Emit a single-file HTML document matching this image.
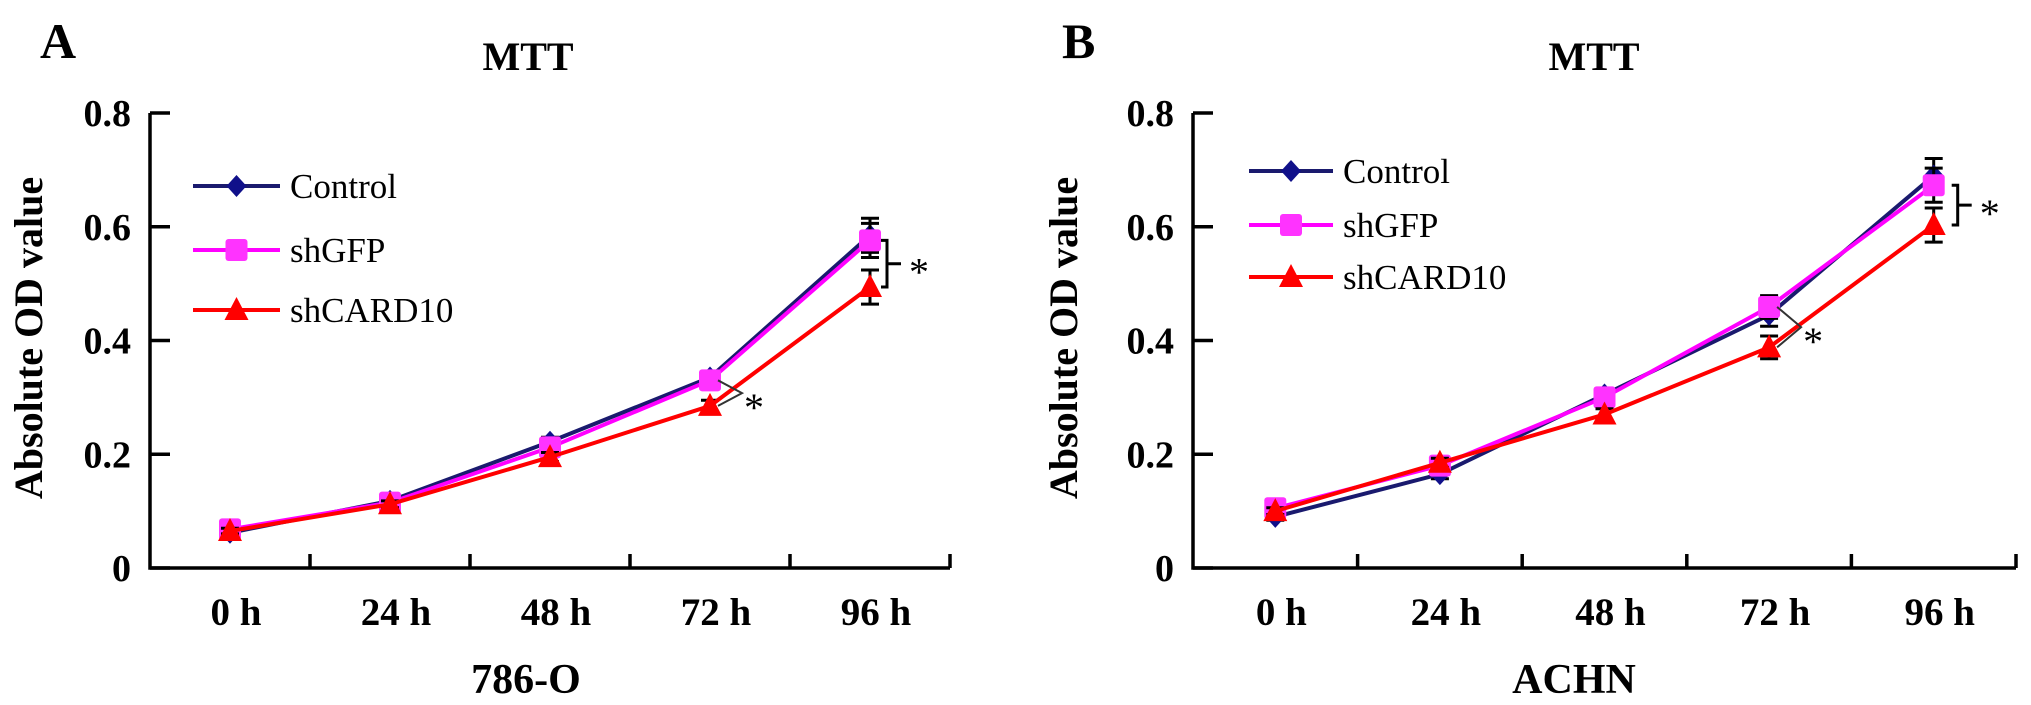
<!DOCTYPE html>
<html><head><meta charset="utf-8"><style>
html,body{margin:0;padding:0;background:#fff;}
svg{display:block;}
text{font-family:"Liberation Serif",serif;}
</style></head><body>
<svg id="fig" width="2031" height="705" viewBox="0 0 2031 705" xmlns="http://www.w3.org/2000/svg"></svg>
<script>
const categories = ["0 h","24 h","48 h","72 h","96 h"];
const yTicks = [0,0.2,0.4,0.6,0.8];
const yTickLabels = ["0","0.2","0.4","0.6","0.8"];
const seriesNames = ["Control","shGFP","shCARD10"];
const aControl = [0.062,0.118,0.222,0.335,0.585];
const aShGFP = [0.068,0.115,0.212,0.330,0.576];
const aShCARD10 = [0.065,0.112,0.195,0.285,0.494];
const aErr = [0.005,0.006,0.008,0.010,0.030];
const bControl = [0.090,0.165,0.305,0.445,0.690];
const bShGFP = [0.105,0.180,0.300,0.459,0.673];
const bShCARD10 = [0.100,0.185,0.270,0.388,0.603];
const bErr = [0.006,0.008,0.010,0.020,0.030];

const NS="http://www.w3.org/2000/svg";
const svg=document.getElementById('fig');
function mk(tag,attrs,parent){const e=document.createElementNS(NS,tag);for(const k in attrs)e.setAttribute(k,attrs[k]);(parent||svg).appendChild(e);return e;}
const colors=["#1a1a6e","#ff00ff","#ff0000"];
const markerFill=["#10108a","#ff33ff","#ff0000"];

function drawMarker(g,type,x,y,c){
  let m;
  if(type===0){m=mk('polygon',{points:`${x},${y-11} ${x+10},${y} ${x},${y+11} ${x-10},${y}`,fill:c},g);}
  else if(type===1){m=mk('rect',{x:x-11,y:y-11,width:22,height:22,rx:3,fill:c},g);}
  else {m=mk('polygon',{points:`${x},${y-13} ${x+12},${y+10} ${x-12},${y+10}`,fill:c},g);}
  return m;
}

function drawChart(cfg){
  const g=mk('g',{});
  
  
  const x0=cfg.x0,x1=cfg.x1,yb=568,yt=113;
  const step=(x1-x0)/categories.length;
  const xs=i=>x0+step*(i+0.5);
  const ys=v=>yb-(v/0.8)*(yb-yt);
  let t=mk('text',{x:cfg.letterX,y:58,'font-size':50,'font-weight':'bold'},g);t.textContent=cfg.letter;
  
  t=mk('text',{x:cfg.titleX,y:70,'font-size':40,'font-weight':'bold','text-anchor':'middle'},g);t.textContent="MTT";
  
  let a=mk('path',{d:`M${x0} ${yt} V${yb} H${x1}`,stroke:'#000','stroke-width':3.5,fill:'none'},g);
  
  yTicks.forEach((v,i)=>{
    const tk=mk('line',{x1:x0,x2:x0+20,y1:ys(v),y2:ys(v),stroke:'#000','stroke-width':3.5},g);
    
    const tl=mk('text',{x:x0-19,y:ys(v)+13,'font-size':38,'font-weight':'bold','text-anchor':'end'},g);
    tl.textContent=yTickLabels[i];
    
  });
  for(let i=1;i<=categories.length;i++){
    const xx=x0+step*i;
    const tk=mk('line',{x1:xx,x2:xx,y1:yb,y2:yb-14,stroke:'#000','stroke-width':3.5},g);
    
  }
  categories.forEach((c,i)=>{
    const tl=mk('text',{x:xs(i)+6,y:625,'font-size':39,'font-weight':'bold','text-anchor':'middle'},g);
    tl.textContent=c;
    
  });
  t=mk('text',{x:cfg.xTitleX,y:693,'font-size':42,'font-weight':'bold','text-anchor':'middle'},g);t.textContent=cfg.xTitle;
  
  t=mk('text',{x:0,y:0,'font-size':40,'font-weight':'bold','text-anchor':'middle',transform:`translate(${cfg.yTitleX},338) rotate(-90)`},g);t.textContent="Absolute OD value";
  
  cfg.series.forEach((s,si)=>{
    const sg=mk('g',{},g);
    
    
    s.forEach((v,i)=>{
      const e=cfg.err[i];
      const eb=mk('path',{d:`M${xs(i)} ${ys(v+e)} V${ys(v-e)} M${xs(i)-9} ${ys(v+e)} H${xs(i)+9} M${xs(i)-9} ${ys(v-e)} H${xs(i)+9}`,stroke:'#000','stroke-width':3,fill:'none'},sg);
      
    });
    const pl=mk('polyline',{points:s.map((v,i)=>`${xs(i)},${ys(v)}`).join(' '),stroke:colors[si],'stroke-width':4,fill:'none'},sg);
    
    s.forEach((v,i)=>{
      const m=drawMarker(sg,si,xs(i),ys(v),markerFill[si]);
      
    });
  });
  cfg.legendY.forEach((ly,si)=>{
    const lg=mk('g',{},g);
    
    
    mk('line',{x1:cfg.legX0,x2:cfg.legX1,y1:ly,y2:ly,stroke:colors[si],'stroke-width':4},lg);
    drawMarker(lg,si,(cfg.legX0+cfg.legX1)/2,ly,markerFill[si]);
    const lt=mk('text',{x:cfg.legX1+10,y:ly+12,'font-size':35},lg);lt.textContent=seriesNames[si];
  });
  const i3=3,i4=4;
  const s1=cfg.series[1],s2=cfg.series[2];
  const bx=xs(i4)+cfg.brOff;
  const br=mk('path',{d:`M${bx-6} ${ys(s1[i4])} H${bx} V${ys(s2[i4])} H${bx-6} M${bx} ${(ys(s1[i4])+ys(s2[i4]))/2} H${bx+14}`,stroke:'#000','stroke-width':3,fill:'none'},g);
  
  let st=mk('text',{x:bx+22,y:(ys(s1[i4])+ys(s2[i4]))/2+22,'font-size':40},g);st.textContent="*";
  
  const cx=xs(i3)+8;
  const my=(ys(s1[i3])+ys(s2[i3]))/2;
  const br2=mk('path',{d:`M${cx} ${ys(s1[i3])} L${cx+24} ${my} L${cx} ${ys(s2[i3])}`,stroke:'#333','stroke-width':2,fill:'none'},g);
  
  st=mk('text',{x:cx+26,y:my+28,'font-size':40},g);st.textContent="*";
  
}

drawChart({name:'chart-786-o',letter:'A',letterX:40,titleX:528,x0:150,x1:950,xTitle:'786-O',xTitleX:526,yTitleX:42,
  series:[aControl,aShGFP,aShCARD10],err:aErr,legendY:[186,250,310],legX0:193,legX1:280,brOff:17});
drawChart({name:'chart-achn',letter:'B',letterX:1062,titleX:1594,x0:1193,x1:2016,xTitle:'ACHN',xTitleX:1574,yTitleX:1077,
  series:[bControl,bShGFP,bShCARD10],err:bErr,legendY:[171,225,277],legX0:1249,legX1:1333,brOff:24});
</script>
</body></html>
